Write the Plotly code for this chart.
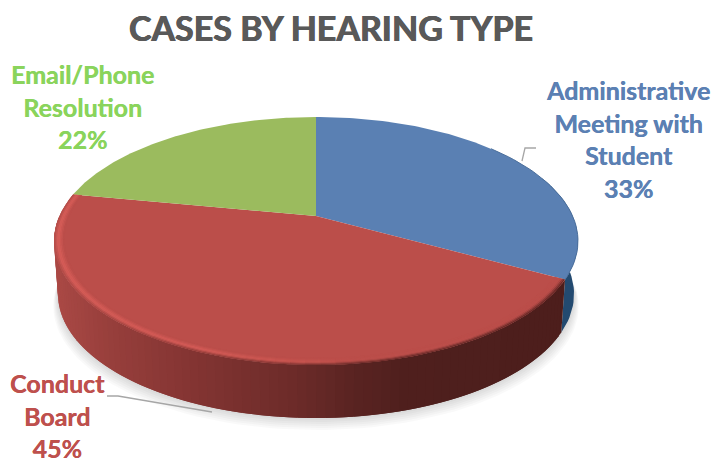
import numpy as np
import plotly.graph_objects as go

# ---- data ----
categories = ["Administrative<br>Meeting with<br>Student", "Conduct<br>Board", "Email/Phone<br>Resolution"]
values = [33, 45, 22]
title_text = "CASES BY HEARING TYPE"

# ---- style ----
top_colors = ["#5A80B3", "#BB4E4A", "#9BBB5E"]
label_colors = ["#5B80B3", "#BE504D", "#8AD45C"]
label_pos = [(628, 139), (57, 415), (82, 106)]
FONT = "Lato, Carlito, 'Open Sans', sans-serif"

# projection of the tilted disc
CX, CY, A, B, K, DEPTH, BOTTOM_SCALE = 316, 216, 256.6, 119, 0.2016, 53, 0.985


def project(theta_deg, r=1.0, drop=0.0, scale=1.0):
    t = np.radians(np.asarray(theta_deg, dtype=float))
    X, Y = r * np.sin(t), r * np.cos(t)
    w = 1 + K * Y
    return CX + scale * A * X / w, CY - B * Y / w + drop


def rgb(h):
    return np.array([int(h[i:i + 2], 16) for i in (1, 3, 5)], dtype=float)


def mix(c1, c2, f):
    f = float(np.clip(f, 0, 1))
    c = rgb(c1) * (1 - f) + rgb(c2) * f
    return "#%02x%02x%02x" % tuple(int(round(v)) for v in c)


def ramp(x, stops):
    for (x0, c0), (x1, c1) in zip(stops, stops[1:]):
        if x <= x1:
            return mix(c0, c1, (x - x0) / (x1 - x0))
    return stops[-1][1]


SIDE = [(50, "#AC4A46"), (110, "#983F3C"), (200, "#823432"), (300, "#6C2B29"),
        (356, "#5A2422"), (410, "#4F1F1D"), (600, "#4C1E1C")]
HILITE = [(50, "#D85E59"), (200, "#D65D58"), (290, "#CC5752"), (360, "#BC4F4B"), (600, "#BB4E4A")]

fig = go.Figure()


def poly(xs, ys, color, opacity=None):
    fig.add_trace(go.Scatter(
        x=np.round(xs, 2), y=np.round(ys, 2), mode="lines", fill="toself", fillcolor=color,
        line=dict(color=color, width=0),
        opacity=opacity, hoverinfo="skip", showlegend=False))


# cumulative angles from the values
total = sum(values)
edges = np.cumsum([0] + values) / total * 360
blue_a0, blue_a1 = edges[0], edges[1]
red_a0, red_a1 = edges[1], edges[2]

# soft shadow below the disc
for i in range(1, 7):
    th = np.linspace(95, 275, 90)
    sx, sy = project(th, drop=DEPTH + i * 2.0, scale=BOTTOM_SCALE + i * 0.003)
    poly(np.r_[sx, sx[0]], np.r_[sy, sy[0]], "#000000", opacity=0.022)

# blue side wall
th = np.linspace(70, blue_a1, 30)
tx, ty = project(th)
bx, by = project(th, drop=DEPTH, scale=BOTTOM_SCALE)
poly(np.r_[tx, bx[::-1]], np.r_[ty, by[::-1]], "#234A70")

# red side wall as overlapping slats shaded along x
steps = np.linspace(red_a0, min(red_a1, 270), 90)
for i in range(len(steps) - 1):
    th = np.array([steps[i], steps[min(i + 2, len(steps) - 1)]])
    tx, ty = project(th)
    bx, by = project(th, drop=DEPTH, scale=BOTTOM_SCALE)
    poly(np.r_[tx, bx[::-1]], np.r_[ty, by[::-1]], ramp(float(tx[0]), SIDE))

# top faces
for a0, a1, c in zip(edges[:-1], edges[1:], top_colors):
    th = np.linspace(a0, a1, 120)
    fx, fy = project(th)
    poly(np.r_[CX, fx, CX], np.r_[CY, fy, CY], c)

# bevel around the red rim, painted outer ring first so rings overlap
N_RINGS = 7
rings = np.linspace(0.962, 1.0, N_RINGS + 1)
steps = np.linspace(red_a0, red_a1, 60)
for i in range(len(steps) - 1):
    th = np.array([steps[i], steps[min(i + 2, len(steps) - 1)]])
    xm = float(project(steps[i])[0])
    hi, sd = ramp(xm, HILITE), ramp(xm, SIDE)
    for j in range(N_RINGS - 1, -1, -1):
        t = j / (N_RINGS - 1)
        c = mix(top_colors[1], hi, t / 0.6) if t <= 0.6 else mix(hi, sd, (t - 0.6) / 0.4 * 0.7)
        ix, iy = project(th, r=rings[j])
        ox, oy = project(th, r=rings[j + 1])
        poly(np.r_[ix, ox[::-1]], np.r_[iy, oy[::-1]], c)

# darker edge on the blue rim
th = np.linspace(blue_a0, blue_a1, 60)
ex, ey = project(th[th > 50])
fig.add_trace(go.Scatter(x=np.round(ex, 2), y=np.round(ey, 2), mode="lines",
                         line=dict(color="#4B6F9C", width=1), hoverinfo="skip", showlegend=False))

# leader lines
leaders = [([522, 525, 536], [161, 148, 148]), ([107, 118, 212], [396, 396, 412])]
for lx, ly in leaders:
    fig.add_trace(go.Scatter(x=lx, y=ly, mode="lines", line=dict(color="#A6A6A6", width=1.3),
                             hoverinfo="skip", showlegend=False))

annotations = [dict(x=331, y=27, text="<b>%s</b>" % title_text, showarrow=False,
                    font=dict(family=FONT, size=34, color="#595959",
                              shadow="0.5px 0 0 #595959, -0.5px 0 0 #595959"))]
for cat, v, (lx, ly), c in zip(categories, values, label_pos, label_colors):
    annotations.append(dict(x=lx, y=ly, text="<b>%s<br>%d%%</b>" % (cat, round(v / total * 100)),
                            showarrow=False, align="center",
                            font=dict(family=FONT, size=25, color=c,
                                      shadow="0.3px 0 0 %s" % c)))

fig.update_layout(
    width=712, height=465, margin=dict(l=0, r=0, t=0, b=0),
    paper_bgcolor="white", plot_bgcolor="white", showlegend=False,
    xaxis=dict(range=[0, 712], visible=False, fixedrange=True),
    yaxis=dict(range=[465, 0], visible=False, fixedrange=True),
    annotations=annotations,
)
fig.write_html("out.html", config={"displayModeBar": False},
               post_script="document.body.style.margin='0';document.documentElement.style.overflow='hidden';")
